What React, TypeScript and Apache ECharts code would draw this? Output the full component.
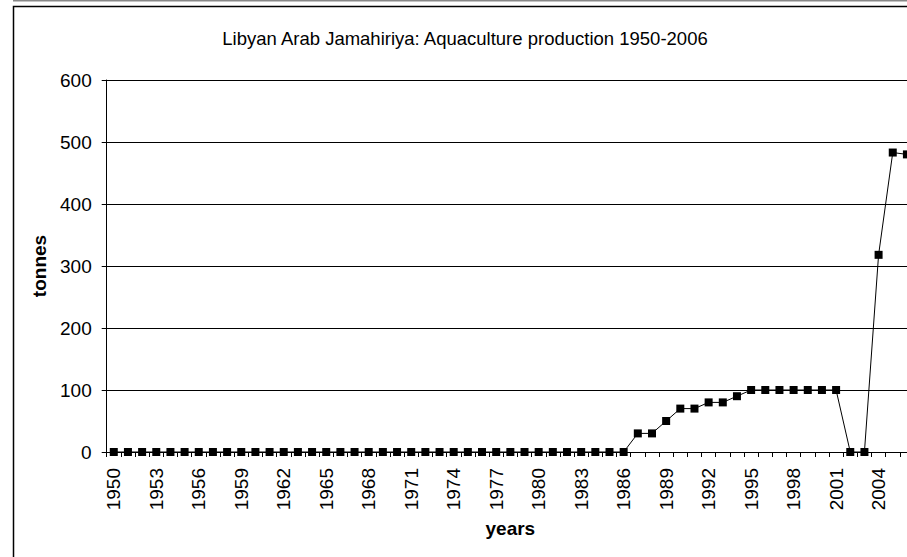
import React, { useEffect, useRef } from "react";
import * as echarts from "echarts";

const years: string[] = [];
for (let y = 1950; y <= 2006; y++) years.push(String(y));

const zeros1950to1986 = [
  0, 0, 0, 0, 0, 0, 0, 0, 0, 0,
  0, 0, 0, 0, 0, 0, 0, 0, 0, 0,
  0, 0, 0, 0, 0, 0, 0, 0, 0, 0,
  0, 0, 0, 0, 0, 0, 0,
];
const values1987to2006 = [
  30, 30, 50, 70, 70, 80, 80, 90, 100, 100,
  100, 100, 100, 100, 100, 0, 0, 318, 483, 480,
];
const production = [...zeros1950to1986, ...values1987to2006];

const titleText = "Libyan Arab Jamahiriya: Aquaculture production 1950-2006";
const FONT = "'Liberation Sans', Arial, sans-serif";

export default function App() {
  const ref = useRef<HTMLDivElement>(null);
  useEffect(() => {
    if (!ref.current) return;
    const chart = echarts.init(ref.current, undefined, { renderer: "svg" });
    chart.setOption({
      animation: false,
      backgroundColor: "#fff",
      textStyle: { fontFamily: FONT },
      title: {
        text: titleText,
        left: 460,
        top: 24,
        textAlign: "center",
        textStyle: { fontFamily: FONT, fontSize: 18.5, fontWeight: "normal", color: "#000" },
      },
      graphic: [
        {
          type: "line",
          shape: { x1: 13, y1: 0.5, x2: 1000, y2: 0.5 },
          style: { stroke: "#888", lineWidth: 2 },
          silent: true,
        },
        {
          type: "rect",
          shape: { x: 13.5, y: 6.5, width: 1000, height: 1000 },
          style: { fill: "none", stroke: "#000", lineWidth: 1.5 },
          silent: true,
        },
      ],
      grid: { left: 106.7, top: 80, right: 16, height: 372, containLabel: false },
      xAxis: {
        type: "category",
        data: years,
        boundaryGap: true,
        name: "years",
        nameLocation: "middle",
        nameGap: 67,
        nameTextStyle: { fontFamily: FONT, fontSize: 19, fontWeight: "bold", color: "#000" },
        axisLine: { lineStyle: { color: "#000", width: 1 } },
        axisTick: { show: true, interval: 0, length: 5, lineStyle: { color: "#000" } },
        axisLabel: {
          interval: 2,
          rotate: 90,
          margin: 16,
          fontFamily: FONT,
          fontSize: 19,
          color: "#000",
        },
        splitLine: { show: false },
      },
      yAxis: {
        type: "value",
        min: 0,
        max: 600,
        interval: 100,
        name: "tonnes",
        nameLocation: "middle",
        nameRotate: 90,
        nameGap: 56,
        nameTextStyle: { fontFamily: FONT, fontSize: 19, fontWeight: "bold", color: "#000" },
        axisLine: { show: true, lineStyle: { color: "#000", width: 1 } },
        axisTick: { show: true, length: 5, lineStyle: { color: "#000" } },
        axisLabel: { margin: 15, fontFamily: FONT, fontSize: 19, color: "#000" },
        splitLine: { show: true, lineStyle: { color: "#000", width: 1 } },
      },
      series: [
        {
          type: "line",
          data: production,
          symbol: "rect",
          symbolSize: 8,
          showSymbol: true,
          lineStyle: { color: "#000", width: 1 },
          itemStyle: { color: "#000" },
        },
      ],
    });
    return () => chart.dispose();
  }, []);
  return (
    <div
      style={{
        position: "fixed",
        left: 0,
        top: 0,
        width: 907,
        height: 557,
        overflow: "hidden",
        background: "#fff",
      }}
    >
      <div ref={ref} style={{ width: 930, height: 580 }} />
    </div>
  );
}
